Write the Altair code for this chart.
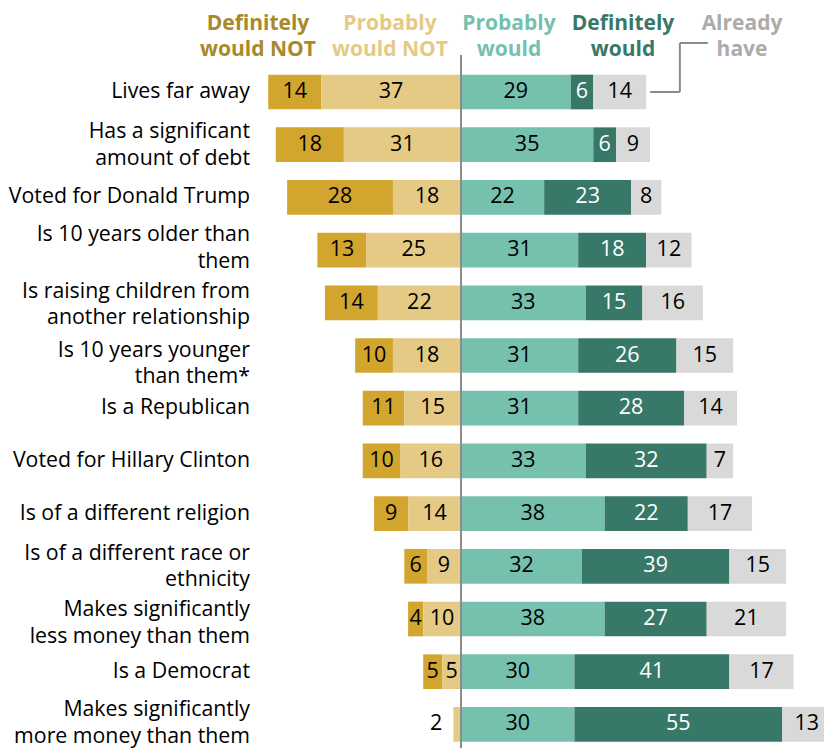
import altair as alt
import pandas as pd

# ---------------- data ----------------
categories = [
    "Lives far away",
    "Has a significant\namount of debt",
    "Voted for Donald Trump",
    "Is 10 years older than\nthem",
    "Is raising children from\nanother relationship",
    "Is 10 years younger\nthan them*",
    "Is a Republican",
    "Voted for Hillary Clinton",
    "Is of a different religion",
    "Is of a different race or\nethnicity",
    "Makes significantly\nless money than them",
    "Is a Democrat",
    "Makes significantly\nmore money than them",
]
definitely_not = [14, 18, 28, 13, 14, 10, 11, 10, 9, 6, 4, 5, 0]
probably_not = [37, 31, 18, 25, 22, 18, 15, 16, 14, 9, 10, 5, 2]
probably_would = [29, 35, 22, 31, 33, 31, 31, 33, 38, 32, 38, 30, 30]
definitely_would = [6, 6, 23, 18, 15, 26, 28, 32, 22, 39, 27, 41, 55]
already_have = [14, 9, 8, 12, 16, 15, 14, 7, 17, 15, 21, 17, 13]

series = ["Definitely would NOT", "Probably would NOT", "Probably would",
          "Definitely would", "Already have"]
header_text = ["Definitely\nwould NOT", "Probably\nwould NOT", "Probably\nwould",
               "Definitely\nwould", "Already\nhave"]

# ---------------- style ----------------
bar_colors = ["#D1A52E", "#E4CA84", "#76C0AE", "#387868", "#D9D9D9"]
head_colors = ["#A8892B", "#E4CA84", "#76C0AE", "#387868", "#ABABAB"]
label_colors = ["#000000", "#000000", "#000000", "#FFFFFF", "#000000"]
head_x = [250, 382, 501, 615, 734]          # header centres (px, plot coords)
label_dy = [0, -12.6, 0, -15, -11, -5, 0, 0, 0, -12.5, -9, 0, -14]
FONT = "Open Sans"
PX = 3.78          # pixels per percentage point
CENTER = 453       # plot x of zero line
W, H = 816, 740
STEP = 52.7
FIRST = 84

# ---------------- build table ----------------
rows = []
for i, cat in enumerate(categories):
    dn, pn = definitely_not[i], probably_not[i]
    pw, dw, ah = probably_would[i], definitely_would[i], already_have[i]
    segs = [(-(pn + dn), -pn, dn), (-pn, 0, pn), (0, pw, pw),
            (pw, pw + dw, dw), (pw + dw, pw + dw + ah, ah)]
    for k, (s, e, v) in enumerate(segs):
        if v <= 0:
            continue
        lx = (s + e) / 2
        if v < 3 and k == 1:
            lx = s - 4.6
        rows.append(dict(cat=cat, series=series[k], start=s, end=e,
                         label=str(v), lx=lx, tcolor=label_colors[k],
                         fill=bar_colors[k]))
df = pd.DataFrame(rows)

head_df = pd.DataFrame(dict(text=header_text, hx=head_x, color=head_colors))

first_total = probably_would[0] + definitely_would[0] + already_have[0]
conn_h = pd.DataFrame(dict(cat=[categories[0]], x=[first_total + 1], x2=[first_total + 8.9]))
conn_v = pd.DataFrame(dict(cat=[categories[0]], x=[first_total + 8.9]))
conn_t = pd.DataFrame(dict(x=[first_total + 8.9], x2=[first_total + 16.3]))

xscale = alt.Scale(domain=[-CENTER / PX, (W - CENTER) / PX], nice=False, zero=False)
r0 = FIRST - STEP / 2
yscale = alt.Scale(type="band", domain=categories, range=[r0, r0 + STEP * len(categories)],
                   paddingInner=1 - 34.7 / STEP, paddingOuter=(1 - 34.7 / STEP) / 2,
                   round=False)

Y = alt.Y("cat:N", scale=yscale, axis=None, sort=categories)

bars = alt.Chart(df).mark_bar(strokeWidth=0).encode(
    x=alt.X("start:Q", scale=xscale, axis=None),
    x2="end:Q",
    y=Y,
    color=alt.Color("fill:N", scale=None),
)

nums = alt.Chart(df).mark_text(font=FONT, fontSize=21.5, baseline="middle", align="center").encode(
    x=alt.X("lx:Q", scale=xscale, axis=None),
    y=Y,
    text="label:N",
    color=alt.Color("tcolor:N", scale=None),
)

cat_layers = []
for i, cat in enumerate(categories):
    cat_layers.append(
        alt.Chart(pd.DataFrame(dict(cat=[cat]))).mark_text(
            font=FONT, fontSize=21.3, align="right", baseline="middle",
            lineBreak="\n", lineHeight=26.5, color="#000000", dy=label_dy[i]
        ).encode(x=alt.value(242), y=Y, text="cat:N")
    )

headers = alt.Chart(head_df).mark_text(
    font=FONT, fontSize=21, fontWeight="bold", align="center", baseline="middle",
    lineBreak="\n", lineHeight=26
).encode(
    x=alt.X("hx:Q", scale=None),
    y=alt.value(16),
    text="text:N",
    color=alt.Color("color:N", scale=None),
)

conn1 = alt.Chart(conn_h).mark_rule(color="#8A8A8A", strokeWidth=2).encode(
    x=alt.X("x:Q", scale=xscale, axis=None), x2="x2:Q", y=Y
)
conn2 = alt.Chart(conn_v).mark_rule(color="#8A8A8A", strokeWidth=2).encode(
    x=alt.X("x:Q", scale=xscale, axis=None), y=Y, y2=alt.value(35)
)
conn3 = alt.Chart(conn_t).mark_rule(color="#8A8A8A", strokeWidth=2).encode(
    x=alt.X("x:Q", scale=xscale, axis=None), x2="x2:Q", y=alt.value(35)
)

zero = alt.Chart(pd.DataFrame(dict(x=[0]))).mark_rule(color="#8C8C8C", strokeWidth=2).encode(
    x=alt.X("x:Q", scale=xscale, axis=None), y=alt.value(47), y2=alt.value(H)
)

chart = alt.layer(bars, nums, *cat_layers, headers, conn1, conn2, conn3, zero).properties(
    width=W, height=H, padding=0, autosize=alt.AutoSizeParams(type="none"),
    background="white"
).configure_view(stroke=None)

chart.save("out.html", embed_options={"renderer": "svg", "actions": False})
